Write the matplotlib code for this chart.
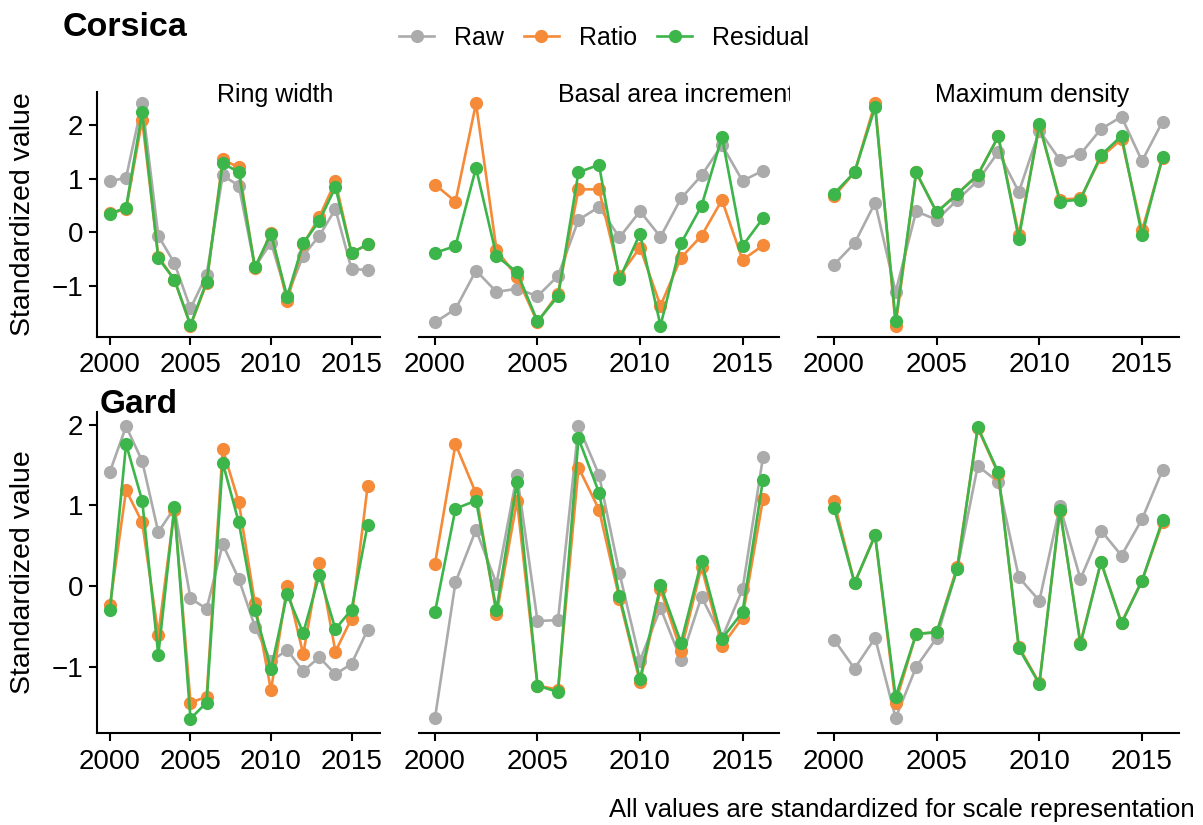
import numpy as np
import matplotlib
matplotlib.use("Agg")
import matplotlib.pyplot as plt
from matplotlib.lines import Line2D

plt.rcParams['font.family'] = ['Liberation Sans', 'DejaVu Sans']

years = np.arange(2000, 2017)

series_names = ["Raw", "Ratio", "Residual"]
series_colors = ["#ABABAB", "#F58A38", "#3CB54A"]

panel_titles = ["Ring width", "Basal area increment", "Maximum density"]
sites = ["Corsica", "Gard"]

# Corsica
cor_rw_raw = [0.95, 1.02, 2.42, -0.07, -0.58, -1.43, -0.80, 1.06, 0.87, -0.65, -0.20, -1.20, -0.44, -0.07, 0.43, -0.69, -0.71]
cor_rw_ratio = [0.35, 0.43, 2.10, -0.46, -0.89, -1.75, -0.96, 1.36, 1.21, -0.67, -0.02, -1.29, -0.23, 0.28, 0.95, -0.39, -0.23]
cor_rw_resid = [0.34, 0.46, 2.25, -0.49, -0.89, -1.74, -0.93, 1.29, 1.12, -0.66, -0.03, -1.21, -0.21, 0.21, 0.84, -0.39, -0.23]

cor_bai_raw = [-1.69, -1.44, -0.72, -1.12, -1.06, -1.20, -0.82, 0.23, 0.47, -0.10, 0.39, -0.09, 0.63, 1.06, 1.63, 0.96, 1.15]
cor_bai_ratio = [0.89, 0.57, 2.41, -0.33, -0.84, -1.69, -1.15, 0.80, 0.80, -0.82, -0.29, -1.38, -0.48, -0.07, 0.60, -0.52, -0.25]
cor_bai_resid = [-0.39, -0.26, 1.20, -0.45, -0.75, -1.67, -1.20, 1.12, 1.26, -0.88, -0.03, -1.75, -0.21, 0.49, 1.78, -0.26, 0.26]

cor_mxd_raw = [-0.61, -0.21, 0.55, -1.12, 0.39, 0.23, 0.60, 0.96, 1.50, 0.75, 1.90, 1.35, 1.46, 1.93, 2.16, 1.33, 2.07]
cor_mxd_ratio = [0.67, 1.12, 2.42, -1.75, 1.12, 0.37, 0.72, 1.07, 1.79, -0.05, 1.99, 0.61, 0.63, 1.40, 1.74, 0.03, 1.38]
cor_mxd_resid = [0.72, 1.12, 2.34, -1.66, 1.12, 0.37, 0.71, 1.07, 1.79, -0.12, 2.02, 0.57, 0.61, 1.44, 1.80, -0.06, 1.41]

# Gard
gar_rw_raw = [1.42, 1.98, 1.55, 0.67, 0.97, -0.15, -0.28, 0.52, 0.09, -0.50, -0.93, -0.79, -1.05, -0.88, -1.09, -0.96, -0.54]
gar_rw_ratio = [-0.23, 1.19, 0.79, -0.60, 0.95, -1.44, -1.37, 1.70, 1.04, -0.21, -1.29, 0.00, -0.84, 0.29, -0.81, -0.40, 1.24]
gar_rw_resid = [-0.30, 1.76, 1.06, -0.85, 0.98, -1.64, -1.44, 1.53, 0.79, -0.30, -1.03, -0.10, -0.58, 0.14, -0.53, -0.29, 0.76]

gar_bai_raw = [-1.63, 0.05, 0.70, 0.03, 1.38, -0.43, -0.42, 1.98, 1.38, 0.16, -0.92, -0.27, -0.91, -0.13, -0.64, -0.04, 1.60]
gar_bai_ratio = [0.28, 1.76, 1.15, -0.35, 1.06, -1.23, -1.28, 1.47, 0.95, -0.16, -1.19, -0.04, -0.80, 0.24, -0.74, -0.39, 1.08]
gar_bai_resid = [-0.32, 0.96, 1.06, -0.29, 1.29, -1.23, -1.31, 1.83, 1.16, -0.12, -1.15, 0.01, -0.70, 0.31, -0.65, -0.32, 1.32]

gar_mxd_raw = [-0.66, -1.02, -0.64, -1.63, -1.00, -0.64, 0.22, 1.49, 1.29, 0.11, -0.18, 0.99, 0.09, 0.69, 0.38, 0.83, 1.44]
gar_mxd_ratio = [1.05, 0.04, 0.63, -1.44, -0.59, -0.57, 0.24, 1.96, 1.39, -0.75, -1.20, 0.93, -0.70, 0.30, -0.45, 0.07, 0.79]
gar_mxd_resid = [0.97, 0.04, 0.63, -1.37, -0.59, -0.57, 0.21, 1.97, 1.41, -0.77, -1.21, 0.95, -0.72, 0.30, -0.46, 0.07, 0.82]

data = [
    [(cor_rw_raw, cor_rw_ratio, cor_rw_resid),
     (cor_bai_raw, cor_bai_ratio, cor_bai_resid),
     (cor_mxd_raw, cor_mxd_ratio, cor_mxd_resid)],
    [(gar_rw_raw, gar_rw_ratio, gar_rw_resid),
     (gar_bai_raw, gar_bai_ratio, gar_bai_resid),
     (gar_mxd_raw, gar_mxd_ratio, gar_mxd_resid)],
]

W, H = 1203, 825
fig = plt.figure(figsize=(W / 100, H / 100), dpi=100)

def px_axes(x0, y0, x1, y1):
    # pixel box (top-left origin) -> figure axes
    return fig.add_axes([x0 / W, 1 - y1 / H, (x1 - x0) / W, (y1 - y0) / H])

col_px = [(97.1, 380.5), (418.6, 779.4), (817.6, 1179)]
row_px = [(91.7, 336.7), (411.7, 733.3)]
title_left_px = [217, 558, 935]

lw_axis = 1.5
for r, (y0, y1) in enumerate(row_px):
    allvals = np.concatenate([np.ravel(s) for panel in data[r] for s in panel])
    lo, hi = allvals.min(), allvals.max()
    pad = 0.05 * (hi - lo)
    for c, (x0, x1) in enumerate(col_px):
        ax = px_axes(x0, y0, x1, y1)
        for vals, name, col in zip(data[r][c], series_names, series_colors):
            ax.plot(years, vals, color=col, lw=1.9, marker='o', ms=9.5,
                    markeredgewidth=0, label=name, clip_on=False)
        ax.set_xlim(1999.2, 2016.8)
        ax.set_ylim(lo - pad, hi + pad)
        ax.set_xticks([2000, 2005, 2010, 2015])
        for s in ['top', 'right']:
            ax.spines[s].set_visible(False)
        ax.spines['bottom'].set_linewidth(lw_axis)
        ax.spines['left'].set_linewidth(lw_axis)
        ax.tick_params(axis='both', labelsize=20, width=lw_axis, length=6,
                       color='black', labelcolor='black')
        ax.tick_params(axis='x', pad=5)
        ax.tick_params(axis='y', pad=4)
        if c == 0:
            ax.set_yticks([-1, 0, 1, 2])
        else:
            ax.spines['left'].set_visible(False)
            ax.set_yticks([])
        ax.patch.set_alpha(0)

    # y axis label per row
    fig.text(23 / W, 1 - (y0 + y1) / 2 / H, "Standardized value", rotation=90,
             ha='center', va='center', fontsize=20.5)

# panel titles along the top row, clipped at the panel boundary
for c in range(3):
    right = 790 if c == 1 else 1200
    tax = px_axes(title_left_px[c] - 2, 78, right, 112)
    tax.set_axis_off()
    tax.text(2 / (right - title_left_px[c] + 2), 0.5, panel_titles[c],
             transform=tax.transAxes, ha='left', va='center',
             fontsize=18, clip_on=True)

# site titles
fig.text(63 / W, 1 - 28 / H, sites[0], fontsize=24.5, fontweight='bold',
         ha='left', va='center')
fig.text(100 / W, 1 - 404 / H, sites[1], fontsize=24, fontweight='bold',
         ha='left', va='center')

# legend
handles = [Line2D([], [], color=col, lw=1.9, marker='o', ms=9.5,
                  markeredgewidth=0) for col in series_colors]
fig.legend(handles, series_names, loc='center', bbox_to_anchor=(604 / W, 1 - 38 / H),
           ncol=3, frameon=False, fontsize=18, handlelength=1.4,
           handletextpad=0.8, columnspacing=0.8)

fig.text(1195 / W, 1 - 810 / H, "All values are standardized for scale representation",
         ha='right', va='center', fontsize=18.5)

fig.savefig("out.png", dpi=100)
